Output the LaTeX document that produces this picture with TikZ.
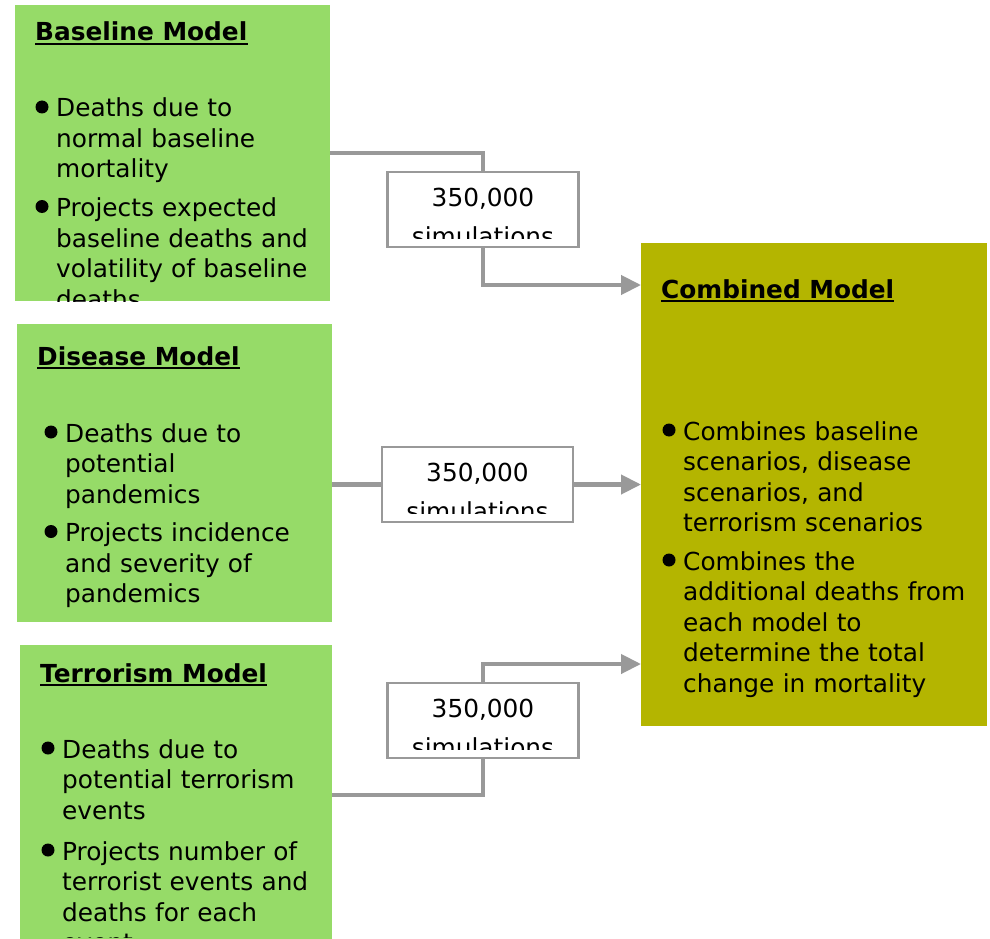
\documentclass[tikz,border=0pt]{standalone}
\usepackage{fontspec}
\setmainfont{DejaVu Sans}
\usetikzlibrary{calc,arrows.meta}
\definecolor{boxgreen}{RGB}{150,219,104}
\definecolor{boxolive}{RGB}{180,181,0}
\definecolor{linegray}{RGB}{153,153,153}
\tikzset{
	model/.style={draw=none,inner sep=0pt,outer sep=0pt,anchor=north west},
	simbox/.style={draw=linegray,line width=2.2pt,fill=white,inner sep=0pt,minimum width=191pt,minimum height=75pt},
	simtext/.style={inner sep=0pt,anchor=base,align=center,text width=191pt,font=\fontsize{24.8}{39}\selectfont},
	title/.style={inner sep=0pt,anchor=base west,font=\fontsize{24.8}{30.5}\selectfont\bfseries},
	body/.style={inner sep=0pt,anchor=base west,align=left,text width=320pt,font=\fontsize{24.8}{30.5}\selectfont},
	flow/.style={draw=linegray,line width=4.2pt},
	flowarrow/.style={flow,-{Triangle[length=20pt,width=19pt]}},
}
\newcommand{\titleline}[1]{\draw[line width=2.5pt] ($(#1.base west)+(0,3)$) -- ($(#1.base east)+(0,3)$);}
\newcommand{\dotmark}[1]{\fill ($(#1.base west)+(-14,-10)$) circle[radius=6.5pt];}

\begin{document}
\begin{tikzpicture}[x=1pt,y=-1pt]
\useasboundingbox (0,0) rectangle (990,939);
\node[model,fill=boxgreen,minimum width=315pt,minimum height=296pt] (base) at (15,5) {};
\node[model,fill=boxgreen,minimum width=315pt,minimum height=298pt] (dis) at (17,324) {};
\node[model,fill=boxgreen,minimum width=312pt,minimum height=300pt] (ter) at (20,645) {};
\node[model,fill=boxolive,minimum width=346pt,minimum height=483pt] (comb) at (641,243) {};

\begin{scope}
\clip (base.north west) rectangle (base.south east);
\node[title] (baset) at (35,41) {Baseline Model};
\node[body] (basep1) at (56,117) {Deaths due to\\normal baseline\\mortality};
\node[body] (basep2) at (56,216.5) {Projects expected\\baseline deaths and\\volatility of baseline\\deaths};
\end{scope}
\titleline{baset}
\dotmark{basep1}
\dotmark{basep2}

\begin{scope}
\clip (dis.north west) rectangle (dis.south east);
\node[title] (dist) at (37,365) {Disease Model};
\node[body] (disp1) at (65,442) {Deaths due to\\potential\\pandemics};
\node[body] (disp2) at (65,541.5) {Projects incidence\\and severity of\\pandemics};
\end{scope}
\titleline{dist}
\dotmark{disp1}
\dotmark{disp2}

\begin{scope}
\clip (ter.north west) rectangle (332,937);
\node[title] (tert) at (40,682) {Terrorism Model};
\node[body] (terp1) at (62,758) {Deaths due to\\potential terrorism\\events};
\node[body] (terp2) at (62,860) {Projects number of\\terrorist events and\\deaths for each\\event};
\end{scope}
\titleline{tert}
\dotmark{terp1}
\dotmark{terp2}

\node[title] (combt) at (661,298) {Combined Model};
\node[body] (combp1) at (683,440) {Combines baseline\\scenarios, disease\\scenarios, and\\terrorism scenarios};
\node[body] (combp2) at (683,570) {Combines the\\additional deaths from\\each model to\\determine the total\\change in mortality};
\titleline{combt}
\dotmark{combp1}
\dotmark{combp2}

\node[simbox] (sim1) at (483,209.5) {};
\node[simbox] (sim2) at (477.5,484.5) {};
\node[simbox] (sim3) at (483,720.5) {};

\draw[flow] (base.east) -| (sim1.north);
\draw[flowarrow] (sim1.south) |- ($(comb.north west)+(0,42)$);
\draw[flow] (sim2.west -| dis.east) -- (sim2.west);
\draw[flowarrow] (sim2.east) -- (sim2.east -| comb.west);
\draw[flow] (ter.east) -| (sim3.south);
\draw[flowarrow] (sim3.north) |- ($(comb.south west)+(0,-62)$);

\foreach \s in {sim1,sim2,sim3}{
	\node[simbox] at (\s) {};
	\begin{scope}
	\clip (\s.north west) rectangle ($(\s.south east)+(0,-10)$);
	\node[simtext] (\s t) at ($(\s.north)+(0,36)$) {350,000\\simulations};
	\end{scope}
}
\end{tikzpicture}
\end{document}
